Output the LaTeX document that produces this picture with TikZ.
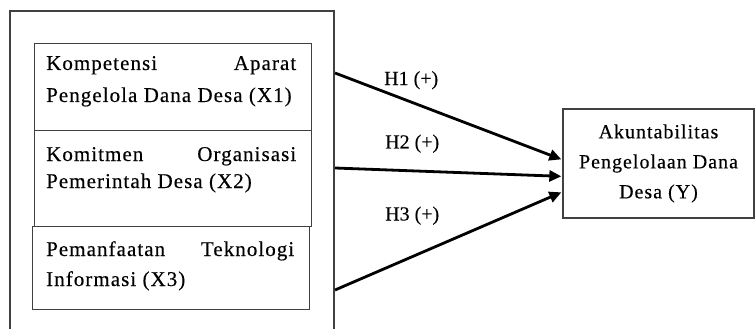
\documentclass[tikz,border=0pt]{standalone}
\usepackage{fontspec}
\setmainfont{Liberation Serif}[FakeBold=0.3]
\newfontfamily\boxfont[LetterSpace=5,FakeBold=0.3]{Liberation Serif}
\usetikzlibrary{arrows.meta,calc}

\begin{document}
\begin{tikzpicture}[x=1pt,y=-1pt,
  frameline/.style={draw=black!75, line width=1.3pt},
  varbox/.style={draw=black!75, line width=1.3pt, inner sep=0pt, anchor=north west},
  boxtext/.style={font=\boxfont\fontsize{21}{24}\selectfont, inner sep=0pt, anchor=base west},
  link/.style={line width=2.8pt, -{Triangle[length=12pt,width=11pt]}},
  hlabel/.style={font=\fontsize{20}{24}\selectfont, inner sep=0pt, anchor=base west}
]
\useasboundingbox (0,0) rectangle (756,329);

% frame around the independent variables
\draw[frameline] (10,329) -- (10,11) -- (334,11) -- (334,329);

% independent variables
\node[varbox, minimum width=277pt, minimum height=87pt] (x1) at (34,43) {};
\node[varbox, minimum width=277pt, minimum height=96pt] (x2) at (34,130) {};
\node[varbox, minimum width=277pt, minimum height=83pt] (x3) at (32,226) {};

\node[boxtext] (x1a) at (46,70)  {\makebox[250pt][s]{Kompetensi Aparat}};
\node[boxtext] (x1b) at (46,102) {Pengelola Dana Desa (X1)};
\node[boxtext] (x2a) at (46,161) {\makebox[250pt][s]{Komitmen Organisasi}};
\node[boxtext] (x2b) at (46,188) {Pemerintah Desa (X2)};
\node[boxtext] (x3a) at (46,256) {\makebox[248pt][s]{Pemanfaatan Teknologi}};
\node[boxtext] (x3b) at (46,286) {Informasi (X3)};

% dependent variable
\node[draw=black!75, line width=1.3pt, minimum width=191pt, minimum height=109pt,
      align=center, font=\boxfont\fontsize{20}{30}\selectfont]
      (Y) at (658.5,163.5) {Akuntabilitas\\Pengelolaan Dana\\Desa (Y)};

% arrow start points on the frame, end points on the left side of Y
\coordinate (s1) at (335,73);
\coordinate (s2) at (335,168);
\coordinate (s3) at (335,290);
\coordinate (e1) at ($(Y.north west)+(-1,51)$);
\coordinate (e2) at ($(Y.north west)+(-1,68)$);
\coordinate (e3) at ($(Y.north west)+(-1,84)$);

\draw[link] (s1) -- (e1);
\draw[link] (s2) -- (e2);
\draw[link] (s3) -- (e3);

\node[hlabel] (h1) at (384,85)    {H1 (+)};
\node[hlabel] (h2) at (385,148.5) {H2 (+)};
\node[hlabel] (h3) at (385,220.5) {H3 (+)};
\end{tikzpicture}
\end{document}
